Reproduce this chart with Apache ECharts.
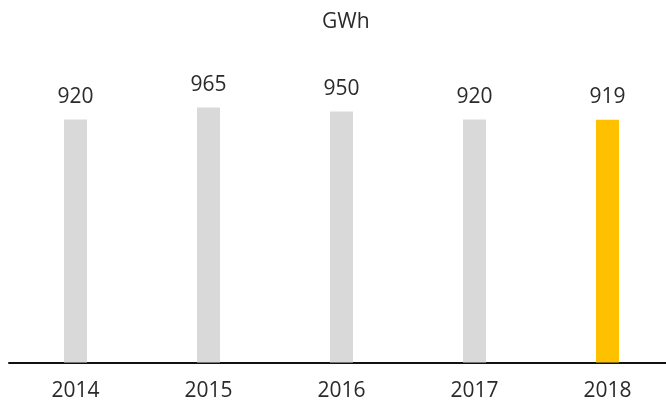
<!DOCTYPE html>
<html><head><meta charset="utf-8">
<script src="https://cdn.jsdelivr.net/npm/echarts@6/dist/echarts.min.js"></script>
<style>html,body{margin:0;padding:0;background:#fff}#c{width:666px;height:402px}</style>
</head><body><div id="c"></div>
<script>
const categories = ['2014', '2015', '2016', '2017', '2018'];
const values = [920, 965, 950, 920, 919];
const barColors = ['#D9D9D9', '#D9D9D9', '#D9D9D9', '#D9D9D9', '#FFC000'];
const unitLabel = 'GWh';

const font = 'Open Sans';
const chart = echarts.init(document.getElementById('c'), null, {renderer: 'canvas'});
chart.setOption({
  animation: false,
  backgroundColor: '#fff',
  title: {
    text: unitLabel, left: 317, top: 7,
    textStyle: {fontFamily: font, fontSize: 21, fontWeight: 'normal', color: '#2a2a2a'}
  },
  grid: {left: 9, width: 665, top: 98.3, bottom: 39.5, containLabel: false, outerBoundsMode: 'none'},
  xAxis: {
    type: 'category', data: categories,
    axisLine: {show: true, lineStyle: {color: '#111', width: 2}},
    axisTick: {show: false},
    axisLabel: {fontFamily: font, fontSize: 21, color: '#2a2a2a', margin: 18}
  },
  yAxis: {
    type: 'value', min: 0, max: 1000, show: false,
    splitLine: {show: false}
  },
  series: [{
    type: 'bar',
    barWidth: 23,
    data: values.map((v, i) => ({value: v, itemStyle: {color: barColors[i]}})),
    label: {
      show: true, position: 'top', distance: 12,
      fontFamily: font, fontSize: 21, color: '#2a2a2a'
    }
  }]
});
</script></body></html>
